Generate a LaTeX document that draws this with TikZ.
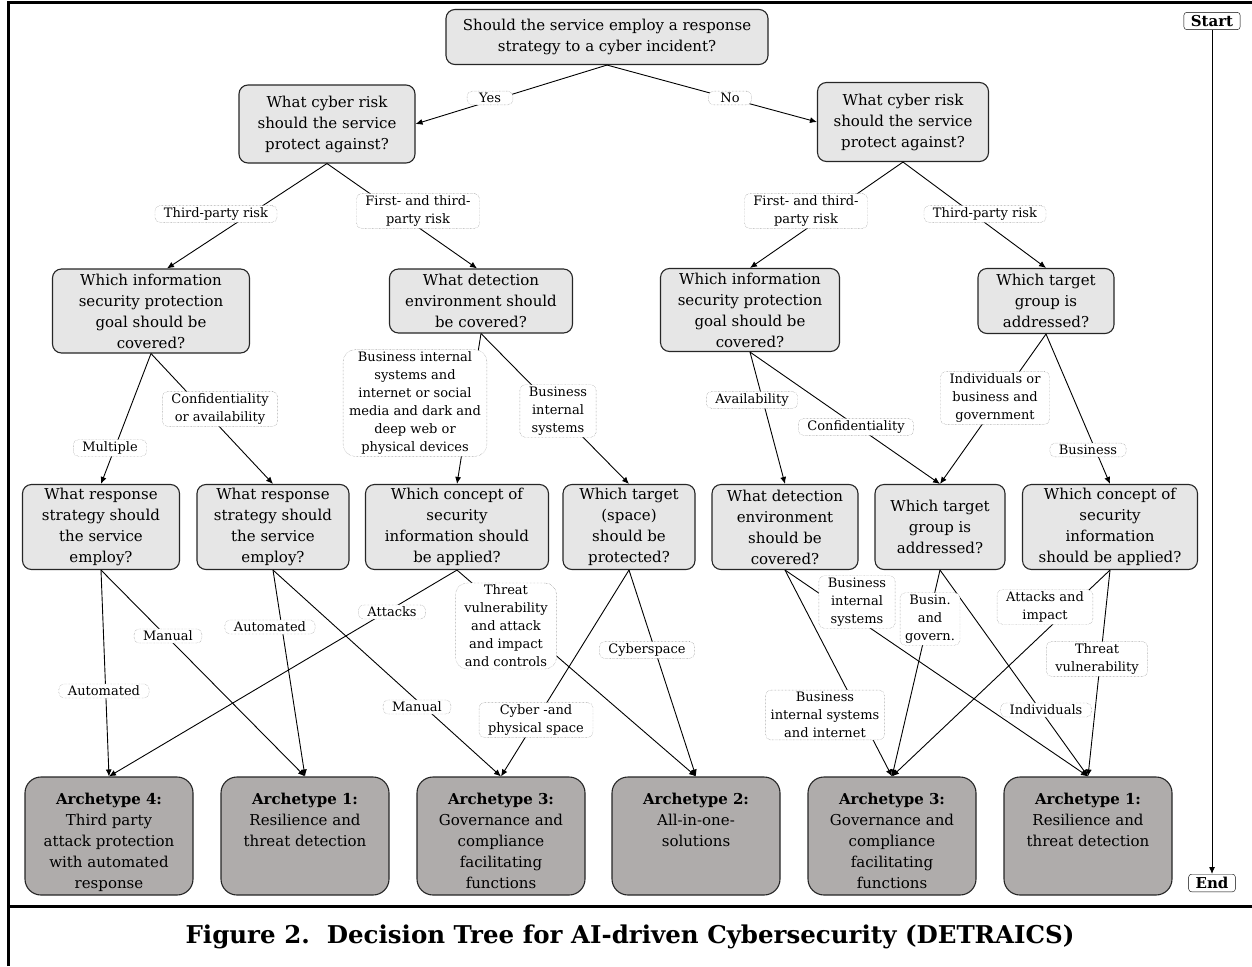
\documentclass[tikz,border=0pt]{standalone}
\usepackage{fontspec}
\setmainfont{DejaVu Serif}
\usepackage{xcolor}
\usetikzlibrary{positioning,arrows.meta}

\definecolor{qgray}{RGB}{230,230,230}
\definecolor{agray}{RGB}{175,172,171}

\begin{document}
\begin{tikzpicture}[x=1pt, y=-1pt,
    every node/.style={align=center},
    question/.style={draw=black!85, line width=1.1pt, rounded corners=9pt, fill=qgray,
        font=\fontsize{15}{21}\selectfont, inner xsep=2pt, inner ysep=1pt},
    qsize/.style 2 args={minimum width=#1pt, minimum height=#2pt},
    archetype/.style={draw=black!85, line width=1.1pt, rounded corners=16pt, fill=agray,
        font=\fontsize{15}{21}\selectfont, inner sep=2pt, text height=109pt, text depth=5pt,
        minimum width=168pt, minimum height=118pt},
    short/.style={text height=67pt, text depth=47pt},
    answer/.style={draw=gray, densely dotted, rounded corners=5pt, fill=white,
        font=\fontsize{13}{18}\selectfont, inner xsep=9pt, inner ysep=2pt},
    terminal/.style={draw, rounded corners=3pt, font=\bfseries\fontsize{15}{17}\selectfont,
        inner xsep=7pt, inner ysep=3pt},
    conn/.style={line width=0.9pt, -{Latex[length=7pt,width=6pt]}}
]
\useasboundingbox (0,0) rectangle (1252,966);

% frame and caption
\draw[line width=3pt] (8,966) -- (8,3) -- (1252,3);
\draw[line width=3pt] (8,906) -- (1252,906);
\node[font=\bfseries\fontsize{24.5}{28}\selectfont] (caption) at (630,937)
    {Figure 2.\ \ Decision Tree for AI-driven Cybersecurity (DETRAICS)};

% start and end
\node[terminal] (start) at (1212,21) {Start};
\node[terminal] (end) at (1212,883) {End};
\draw[conn] (start) -- (end);

% questions
\node[question, qsize={322}{55}] (q0) at (607,37) {Should the service employ a response\\strategy to a cyber incident?};
\node[question, qsize={176}{78}] (q1y) at (327,124) {What cyber risk\\should the service\\protect against?};
\node[question, qsize={171}{79}] (q1n) at (903,122) {What cyber risk\\should the service\\protect against?};

\node[question, qsize={197}{84}] (q2a) at (151,311) {Which information\\security protection\\goal should be\\covered?};
\node[question, qsize={183}{64}] (q2b) at (481,301) {What detection\\environment should\\be covered?};
\node[question, qsize={179}{83}] (q2c) at (750,310) {Which information\\security protection\\goal should be\\covered?};
\node[question, qsize={136}{65}] (q2d) at (1046,301) {Which target\\group is\\addressed?};

\node[question, qsize={157}{85}] (q3a) at (101,527) {What response\\strategy should\\the service\\employ?};
\node[question, qsize={152}{85}] (q3b) at (273,527) {What response\\strategy should\\the service\\employ?};
\node[question, qsize={183}{85}] (q3c) at (457,527) {Which concept of\\security\\information should\\be applied?};
\node[question, qsize={132}{85}] (q3d) at (629,527) {Which target\\(space)\\should be\\protected?};
\node[question, qsize={146}{85}] (q3e) at (785,527) {What detection\\environment\\should be\\covered?};
\node[question, qsize={130}{85}] (q3f) at (940,527) {Which target\\group is\\addressed?};
\node[question, qsize={175}{85}] (q3g) at (1110,527) {Which concept of\\security\\information\\should be applied?};

% archetypes
\node[archetype] (a4) at (109,836) {\textbf{Archetype 4:}\\Third party\\attack protection\\with automated\\response};
\node[archetype, short] (a1a) at (305,836) {\textbf{Archetype 1:}\\Resilience and\\threat detection};
\node[archetype] (a3a) at (501,836) {\textbf{Archetype 3:}\\Governance and\\compliance\\facilitating\\functions};
\node[archetype, short] (a2) at (696,836) {\textbf{Archetype 2:}\\All-in-one-\\solutions};
\node[archetype] (a3b) at (892,836) {\textbf{Archetype 3:}\\Governance and\\compliance\\facilitating\\functions};
\node[archetype, short] (a1b) at (1088,836) {\textbf{Archetype 1:}\\Resilience and\\threat detection};

% connectors
\draw[conn] (q0.south) -- (q1y.east);
\draw[conn] (q0.south) -- (q1n.west);
\draw[conn] (q1y.south) -- ([xshift=16pt]q2a.north);
\draw[conn] (q1y.south) -- ([xshift=-4pt]q2b.north);
\draw[conn] (q1n.south) -- (q2c.north);
\draw[conn] (q1n.south) -- (q2d.north);
\draw[conn] (q2a.south) -- (q3a.north);
\draw[conn] (q2a.south) -- (q3b.north);
\draw[conn] (q2b.south) -- (q3c.north);
\draw[conn] (q2b.south) -- (q3d.north);
\draw[conn] (q2c.south) -- (q3e.north);
\draw[conn] (q2c.south) -- (q3f.north);
\draw[conn] (q2d.south) -- (q3f.north);
\draw[conn] (q2d.south) -- (q3g.north);
\draw[conn] (q3a.south) -- (a4.north);
\draw[conn] (q3a.south) -- (a1a.north);
\draw[conn] (q3b.south) -- (a1a.north);
\draw[conn] (q3b.south) -- (a3a.north);
\draw[conn] (q3c.south) -- (a4.north);
\draw[conn] (q3c.south) -- (a2.north);
\draw[conn] (q3d.south) -- (a3a.north);
\draw[conn] (q3d.south) -- (a2.north);
\draw[conn] (q3e.south) -- (a1b.north);
\draw[conn] (q3e.south) -- (a3b.north);
\draw[conn] (q3f.south) -- (a3b.north);
\draw[conn] (q3f.south) -- (a1b.north);
\draw[conn] (q3g.south) -- (a3b.north);
\draw[conn] (q3g.south) -- (a1b.north);

% answers
\node[answer, inner xsep=12pt] (yes) at (490,98) {Yes};
\node[answer, inner xsep=12pt] (no) at (730,98) {No};
\node[answer] (tpr1) at (216,214) {Third-party risk};
\node[answer] (ftr1) at (418,211) {First- and third-\\party risk};
\node[answer] (ftr2) at (806,211) {First- and third-\\party risk};
\node[answer] (tpr2) at (985,214) {Third-party risk};

\node[answer] (multi) at (110,448) {Multiple};
\node[answer] (confav) at (220,409) {Confidentiality\\or availability};
\node[answer, rounded corners=12pt, inner xsep=6pt] (allenv) at (415,403) {Business internal\\systems and\\internet or social\\media and dark and\\deep web or\\physical devices};
\node[answer] (bis1) at (558,411) {Business\\internal\\systems};
\node[answer] (avail) at (752,400) {Availability};
\node[answer] (conf) at (856,427) {Confidentiality};
\node[answer] (indbg) at (995,398) {Individuals or\\business and\\government};
\node[answer] (bus) at (1088,450) {Business};

\node[answer] (auto1) at (104,691) {Automated};
\node[answer] (man1) at (168,636) {Manual};
\node[answer] (auto2) at (270,627) {Automated};
\node[answer] (man2) at (417,707) {Manual};
\node[answer] (att) at (392,612) {Attacks};
\node[answer, rounded corners=12pt] (tvaic) at (506,626) {Threat\\vulnerability\\and attack\\and impact\\and controls};
\node[answer] (cps) at (536,720) {Cyber -and\\physical space};
\node[answer] (csp) at (647,650) {Cyberspace};
\node[answer] (bis2) at (857,602) {Business\\internal\\systems};
\node[answer, inner xsep=5pt] (bisi) at (825,715) {Business\\internal systems\\and internet};
\node[answer, inner xsep=5pt] (bag) at (930,619) {Busin.\\and\\govern.};
\node[answer] (ind) at (1046,710) {Individuals};
\node[answer] (aai) at (1045,607) {Attacks and\\impact};
\node[answer] (tv) at (1097,659) {Threat\\vulnerability};
\end{tikzpicture}
\end{document}
